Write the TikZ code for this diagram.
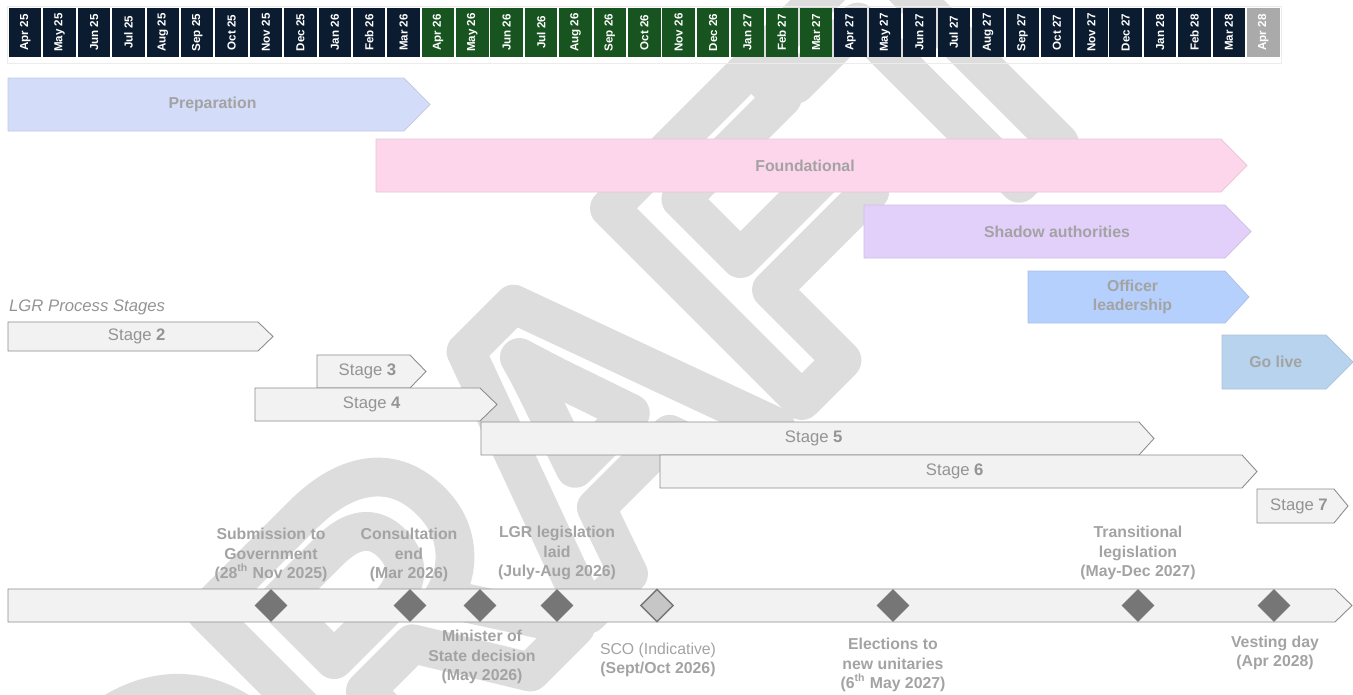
\documentclass[tikz,border=0pt]{standalone}
\usepackage{fontspec}
\setmainfont{Liberation Sans}
\usetikzlibrary{shapes.geometric}

\definecolor{navycell}{RGB}{12,28,48}
\definecolor{greencell}{RGB}{24,84,31}
\definecolor{greycell}{RGB}{170,170,170}
\definecolor{prepfill}{RGB}{211,220,248}
\definecolor{foundfill}{RGB}{253,214,236}
\definecolor{shadowfill}{RGB}{226,207,250}
\definecolor{officerfill}{RGB}{181,208,252}
\definecolor{livefill}{RGB}{183,211,238}
\definecolor{stagefill}{RGB}{242,242,242}
\definecolor{stageline}{RGB}{140,140,140}
\definecolor{labelgrey}{RGB}{163,163,163}
\definecolor{stagegrey}{RGB}{148,148,148}
\definecolor{draftgrey}{RGB}{221,221,221}
\definecolor{gemgrey}{RGB}{118,118,118}

\tikzset{
	monthcell/.style={fill=#1, minimum width=0.65cm, minimum height=0.98cm, inner sep=0pt,
			text=white, font=\bfseries\fontsize{6.6}{7}\selectfont},
	phasebar/.style={fill=#1, draw=#1!80!gray, line width=0.4pt},
	stagebar/.style={fill=stagefill, draw=stageline, line width=0.5pt},
	phasetext/.style={font=\bfseries\fontsize{9}{10.5}\selectfont, text=labelgrey, align=center},
	stagetext/.style={font=\fontsize{9.5}{11}\selectfont, text=stagegrey},
	milestone/.style={font=\bfseries\fontsize{9}{11}\selectfont, text=labelgrey, align=center},
	gem/.style={diamond, fill=gemgrey, minimum size=0.66cm, inner sep=0pt},
	draftmark/.style={rotate=45, text=draftgrey, inner sep=0pt,
			font=\bfseries\fontsize{225}{225}\selectfont}
}

% chevron bar: path style, text style, left, body end, tip, top, bottom, name, text
\newcommand{\chevron}[9]{%
	\filldraw[#1] (#3,#6) -- (#4,#6) -- (#5,{(#6+#7)/2}) -- (#4,#7) -- (#3,#7) -- cycle;
	\node[#2] (#8) at ({(#3+(#4+#5)/2)/2},{(#6+#7)/2}) {#9};
}

\begin{document}
\begin{tikzpicture}[x=0.02cm,y=-0.02cm]
	\useasboundingbox (0,0) rectangle (1353,694);

	% watermark
	\begin{scope}
		\clip (0,0) rectangle (1353,694);
		\node[draftmark] (draft) at (555,455)
		{\special{pdf:code 1 Tr 22 w 1 j}DRAFT\special{pdf:code 0 Tr}};
	\end{scope}

	% month header
	\draw[gray!15] (7,6) rectangle (1281,63);
	\foreach \mon [count=\i from 0] in {Apr 25,May 25,Jun 25,Jul 25,Aug 25,Sep 25,Oct 25,Nov 25,Dec 25,Jan 26,Feb 26,Mar 26,
			Apr 26,May 26,Jun 26,Jul 26,Aug 26,Sep 26,Oct 26,Nov 26,Dec 26,Jan 27,Feb 27,Mar 27,
			Apr 27,May 27,Jun 27,Jul 27,Aug 27,Sep 27,Oct 27,Nov 27,Dec 27,Jan 28,Feb 28,Mar 28,Apr 28}{
		\ifnum\i<12 \def\cellcol{navycell}\else
			\ifnum\i<24 \def\cellcol{greencell}\else
				\ifnum\i<36 \def\cellcol{navycell}\else \def\cellcol{greycell}\fi\fi\fi
		\node[monthcell=\cellcol] (m\i) at ({25.25+34.39*\i},32.5) {\rotatebox{90}{\mon}};
	}

	% phases
	\chevron{phasebar=prepfill}{phasetext}{8}{404}{430}{78}{131}{prep}{Preparation}
	\chevron{phasebar=foundfill}{phasetext}{376}{1221}{1247}{139}{192}{found}{Foundational}
	\chevron{phasebar=shadowfill}{phasetext, xshift=0.12cm}{864}{1225}{1251}{205}{258}{shadow}{Shadow authorities}
	\chevron{phasebar=officerfill}{phasetext}{1028}{1225}{1249}{271}{323}{officer}{Officer\\leadership}
	\chevron{phasebar=livefill}{phasetext, xshift=-0.1cm}{1222}{1326}{1353}{335}{389}{golive}{Go live}

	% LGR stages
	\node[stagetext, font=\itshape\fontsize{9.5}{11}\selectfont, anchor=west] (stages) at (3,307) {LGR Process Stages};
	\chevron{stagebar}{stagetext}{8}{258}{273}{322}{351}{st2}{Stage \textbf{2}}
	\chevron{stagebar}{stagetext}{317}{410}{426}{355}{388}{st3}{Stage \textbf{3}}
	\chevron{stagebar}{stagetext}{255}{480}{497}{388}{421}{st4}{Stage \textbf{4}}
	\chevron{stagebar}{stagetext}{481}{1139}{1154}{422}{455}{st5}{Stage \textbf{5}}
	\chevron{stagebar}{stagetext}{660}{1242}{1257}{455}{488}{st6}{Stage \textbf{6}}
	\chevron{stagebar}{stagetext}{1257}{1334}{1348}{489}{523}{st7}{Stage \textbf{7}}

	% milestones
	\chevron{stagebar}{stagetext}{8}{1335}{1352}{589}{622}{timeline}{}
	\foreach \x [count=\k] in {271,410,480,557,657,893,1138,1274}
	\node[gem] (g\k) at (\x,605.5) {};
	\node[gem, fill=gray!45, draw=gemgrey, line width=0.8pt] at (g5) {};

	\node[milestone] (lab1) at (271,555) {Submission to\\Government\\(28\textsuperscript{th} Nov 2025)};
	\node[milestone] (lab2) at (409,555) {Consultation\\end\\(Mar 2026)};
	\node[milestone] (lab3) at (482,657) {Minister of\\State decision\\(May 2026)};
	\node[milestone] (lab4) at (557,553) {LGR legislation\\laid\\(July-Aug 2026)};
	\node[milestone] (lab5) at (658,660) {\mdseries SCO (Indicative)\\(Sept/Oct 2026)};
	\node[milestone] (lab6) at (893,665) {Elections to\\new unitaries\\(6\textsuperscript{th} May 2027)};
	\node[milestone] (lab7) at (1138,553) {Transitional\\legislation\\(May-Dec 2027)};
	\node[milestone] (lab8) at (1275,653) {Vesting day\\(Apr 2028)};
\end{tikzpicture}
\end{document}
